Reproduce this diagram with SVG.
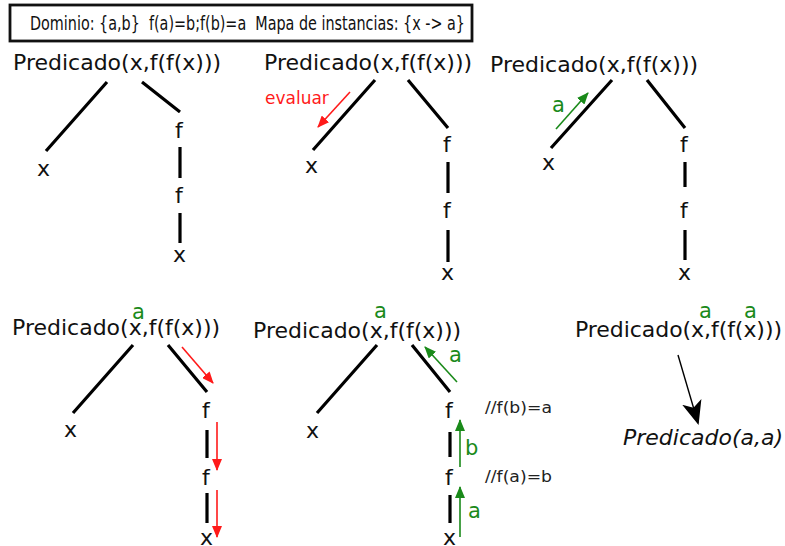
<svg xmlns="http://www.w3.org/2000/svg" width="785" height="546" viewBox="0 0 785 546">
<style>
.t{font-family:"DejaVu Sans",sans-serif;font-size:22px;fill:#111}
.hd{font-family:"DejaVu Sans Condensed","DejaVu Sans",sans-serif;font-size:19.5px;fill:#111}
.g{font-family:"DejaVu Sans",sans-serif;font-size:21px;fill:#1a8a1a}
.sm{font-family:"DejaVu Sans Condensed","DejaVu Sans",sans-serif;font-size:15px;fill:#222}
.ev{font-family:"DejaVu Sans",sans-serif;font-size:17px;fill:#ff1a1a}
.e{stroke:#000;stroke-width:3.2;fill:none}
.ra{stroke:#ff1a1a;stroke-width:1.6;fill:none;marker-end:url(#mr)}
.ga{stroke:#1a8a1a;stroke-width:1.6;fill:none;marker-end:url(#mg)}
.ba{stroke:#000;stroke-width:1.4;fill:none;marker-end:url(#mb)}
</style>
<defs>
<marker id="mr" markerUnits="userSpaceOnUse" markerWidth="12" markerHeight="10" refX="11" refY="5" orient="auto"><path d="M0,0 L12,5 L0,10 Z" fill="#ff1a1a"/></marker>
<marker id="mg" markerUnits="userSpaceOnUse" markerWidth="12" markerHeight="10" refX="11" refY="5" orient="auto"><path d="M0,0 L12,5 L0,10 Z" fill="#1a8a1a"/></marker>
<marker id="mb" markerUnits="userSpaceOnUse" markerWidth="24" markerHeight="20" refX="22" refY="10" orient="auto"><path d="M0,0 L24,10 L0,20 L6,10 Z" fill="#000"/></marker>
</defs>
<g id="header">
<rect x="10" y="5" width="462" height="36" fill="#fff" stroke="#111" stroke-width="2.8"/>
<text class="hd" x="30" y="30" xml:space="preserve" textLength="435" lengthAdjust="spacingAndGlyphs">Dominio: {a,b}  f(a)=b;f(b)=a  Mapa de instancias: {x -&gt; a}</text>
</g>
<g id="tree1">
<text class="t" x="13" y="70">Predicado(x,f(f(x)))</text>
<text class="t" x="37" y="176">x</text>
<text class="t" x="175" y="138">f</text>
<text class="t" x="175" y="203">f</text>
<text class="t" x="173" y="262">x</text>
</g>
<g id="tree2">
<text class="t" x="264" y="70">Predicado(x,f(f(x)))</text>
<text class="t" x="305" y="173">x</text>
<text class="t" x="443" y="152">f</text>
<text class="t" x="443" y="218">f</text>
<text class="t" x="441" y="280">x</text>
<text class="ev" x="265" y="104">evaluar</text>
</g>
<g id="tree3">
<text class="t" x="490" y="72">Predicado(x,f(f(x)))</text>
<text class="t" x="542" y="170">x</text>
<text class="t" x="680" y="152">f</text>
<text class="t" x="680" y="218">f</text>
<text class="t" x="678" y="280">x</text>
<text class="g" x="552" y="112">a</text>
</g>
<g id="tree4">
<text class="t" x="12" y="335">Predicado(x,f(f(x)))</text>
<text class="g" x="132" y="319">a</text>
<text class="t" x="64" y="437">x</text>
<text class="t" x="202" y="418">f</text>
<text class="t" x="202" y="485">f</text>
<text class="t" x="200" y="545">x</text>
</g>
<g id="tree5">
<text class="t" x="253" y="338">Predicado(x,f(f(x)))</text>
<text class="g" x="374" y="318">a</text>
<text class="t" x="306" y="438">x</text>
<text class="t" x="445" y="418">f</text>
<text class="t" x="445" y="485">f</text>
<text class="t" x="443" y="545">x</text>
<text class="g" x="449" y="362">a</text>
<text class="g" x="465" y="455">b</text>
<text class="g" x="468" y="518">a</text>
<text class="sm" x="485" y="413" textLength="67" lengthAdjust="spacingAndGlyphs">//f(b)=a</text>
<text class="sm" x="485" y="482" textLength="67" lengthAdjust="spacingAndGlyphs">//f(a)=b</text>
</g>
<g id="tree6">
<text class="t" x="575" y="337" textLength="207" lengthAdjust="spacing">Predicado(x,f(f(x)))</text>
<text class="g" x="699" y="318">a</text>
<text class="g" x="744" y="318">a</text>
<text class="t" x="623" y="445" font-style="italic">Predicado(a,a)</text>
</g>
<g id="connectors">
<path class="e" d="M107,82 L46,151 M142,82 L180,112 M180,147 V178 M180,213 V243"/>
<path class="e" d="M375,80 L313,150 M408,80 L448,128 M448,162 V193 M448,230 V262"/>
<path class="e" d="M612,80 L551,148 M647,80 L685,128 M685,162 V187 M685,230 V260"/>
<path class="e" d="M133,345 L73,413 M168,345 L207,392 M207,430 V458 M207,493 V523"/>
<path class="e" d="M377,345 L317,413 M412,345 L450,392 M450,432 V457 M450,495 V523"/>
<path class="ra" d="M350,92 L318,127"/>
<path class="ga" d="M556,129 L588,93"/>
<path class="ra" d="M182,347 L213,383"/>
<path class="ra" d="M217,422 V470"/>
<path class="ra" d="M217,490 V537"/>
<path class="ga" d="M457,382 L425,347"/>
<path class="ga" d="M460,467 V420"/>
<path class="ga" d="M460,537 V487"/>
<path class="ba" d="M678,355 L698,423"/>
</g>
</svg>
